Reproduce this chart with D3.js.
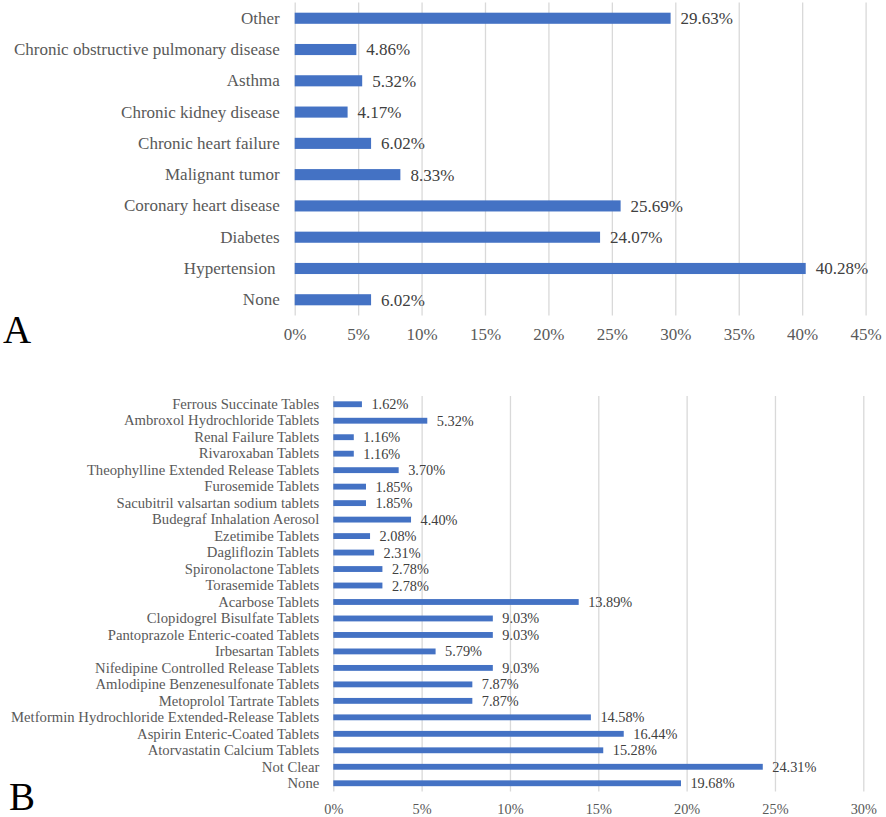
<!DOCTYPE html>
<html>
<head>
<meta charset="utf-8">
<script src="https://cdn.jsdelivr.net/npm/d3@7"></script>
<style>
  body { margin: 0; background: #fff; }
  svg { display: block; }
  text { font-family: "Liberation Serif", "Times New Roman", serif; }
</style>
</head>
<body>
<svg id="chart" width="886" height="817"></svg>
<script>
// Panel A: chronic diseases
const diseaseCats = ["Other", "Chronic obstructive pulmonary disease", "Asthma", "Chronic kidney disease",
    "Chronic heart failure", "Malignant tumor", "Coronary heart disease", "Diabetes", "Hypertension ", "None"];
const diseaseVals = [29.63, 4.86, 5.32, 4.17, 6.02, 8.33, 25.69, 24.07, 40.28, 6.02];
const diseaseTicks = [0, 5, 10, 15, 20, 25, 30, 35, 40, 45];

// Panel B: medications
const drugCats = ["Ferrous Succinate Tables", "Ambroxol Hydrochloride Tablets", "Renal Failure Tablets",
    "Rivaroxaban Tablets", "Theophylline Extended Release Tablets", "Furosemide Tablets",
    "Sacubitril valsartan sodium tablets", "Budegraf Inhalation Aerosol", "Ezetimibe Tablets",
    "Dagliflozin Tablets", "Spironolactone Tablets", "Torasemide Tablets", "Acarbose Tablets",
    "Clopidogrel Bisulfate Tablets", "Pantoprazole Enteric-coated Tablets", "Irbesartan Tablets",
    "Nifedipine Controlled Release Tablets", "Amlodipine Benzenesulfonate Tablets",
    "Metoprolol Tartrate Tablets", "Metformin Hydrochloride Extended-Release Tablets",
    "Aspirin Enteric-Coated Tablets", "Atorvastatin Calcium Tablets", "Not Clear", "None"];
const drugVals = [1.62, 5.32, 1.16, 1.16, 3.70, 1.85, 1.85, 4.40, 2.08, 2.31, 2.78, 2.78, 13.89,
    9.03, 9.03, 5.79, 9.03, 7.87, 7.87, 14.58, 16.44, 15.28, 24.31, 19.68];
const drugTicks = [0, 5, 10, 15, 20, 25, 30];

const svg = d3.select("#chart");

function drawPanel(cfg) {
    const x = d3.scaleLinear()
        .domain([cfg.ticks[0], cfg.ticks[cfg.ticks.length - 1]])
        .range([cfg.left, cfg.right]);
    const y = d3.scaleBand()
        .domain(cfg.cats)
        .range([cfg.top, cfg.bottom])
        .paddingInner(0.645)
        .paddingOuter(0.3225);

    const g = svg.append("g");

    // gridlines + tick labels
    const xAxis = g.append("g")
        .attr("transform", `translate(0,${cfg.bottom})`)
        .call(d3.axisBottom(x)
            .tickValues(cfg.ticks)
            .tickFormat(d => d + "%")
            .tickSize(-(cfg.bottom - cfg.top))
            .tickPadding(cfg.tickPad));
    xAxis.select(".domain").remove();
    xAxis.selectAll("line").attr("stroke", "#d9d9d9").attr("stroke-width", 1.3);
    xAxis.selectAll("text")
        .style("font-family", "Liberation Serif")
        .style("font-size", cfg.valFont + "px")
        .attr("fill", "#595959");

    // category labels
    const yAxis = g.append("g")
        .attr("transform", `translate(${cfg.left},0)`)
        .call(d3.axisLeft(y).tickSize(0).tickPadding(cfg.labelPad));
    yAxis.select(".domain").remove();
    yAxis.selectAll("text")
        .style("font-family", "Liberation Serif")
        .style("font-size", cfg.font + "px")
        .style("white-space", "pre")
        .attr("fill", "#595959");

    const rows = cfg.cats.map((c, i) => ({ cat: c, val: cfg.vals[i] }));

    g.selectAll(".bar")
        .data(rows)
        .enter().append("rect")
        .attr("class", "bar")
        .attr("x", x(0))
        .attr("y", d => y(d.cat))
        .attr("width", d => x(d.val) - x(0))
        .attr("height", y.bandwidth())
        .attr("fill", "#4472c4");

    g.selectAll(".val")
        .data(rows)
        .enter().append("text")
        .attr("class", "val")
        .attr("x", d => x(d.val) + cfg.valPad)
        .attr("y", d => y(d.cat) + y.bandwidth() / 2)
        .attr("dy", "0.35em")
        .style("font-size", cfg.valFont + "px")
        .attr("fill", "#404040")
        .text(d => d.val.toFixed(2) + "%");

    // panel letter
    svg.append("text")
        .attr("x", cfg.letterX)
        .attr("y", cfg.letterY)
        .style("font-size", "39px")
        .attr("fill", "#000")
        .text(cfg.letter);
}

drawPanel({
    cats: diseaseCats, vals: diseaseVals, ticks: diseaseTicks,
    left: 294.7, right: 865.6, top: 2.6, bottom: 315.4,
    font: 17, valFont: 17, tickPad: 13, labelPad: 15, valPad: 10,
    letter: "A", letterX: 3, letterY: 343
});

drawPanel({
    cats: drugCats, vals: drugVals, ticks: drugTicks,
    left: 333.3, right: 863.3, top: 396, bottom: 791.5,
    font: 14.7, valFont: 14.3, tickPad: 12, labelPad: 14, valPad: 9.5,
    letter: "B", letterX: 9, letterY: 810
});
</script>
</body>
</html>
